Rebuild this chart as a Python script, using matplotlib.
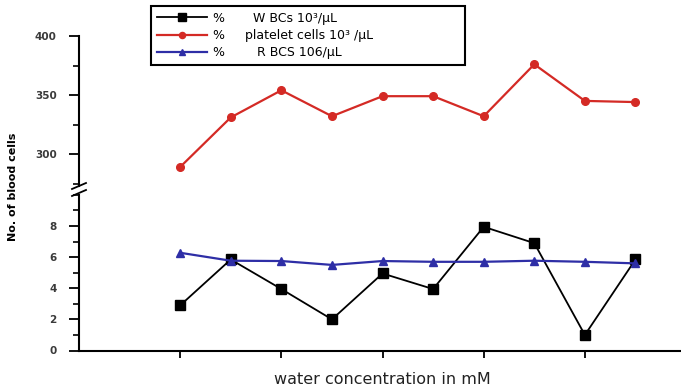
"""Blood cell counts against water concentration, broken y axis."""
import matplotlib
matplotlib.use("Agg")
import matplotlib.pyplot as plt
from matplotlib.ticker import MultipleLocator

# data (10 concentration steps)
steps = [1, 2, 3, 4, 5, 6, 7, 8, 9, 10]
wbc = [2.9, 5.85, 3.95, 2.0, 4.95, 3.95, 7.95, 6.9, 1.0, 5.85]
platelets = [289, 331, 354, 332, 349, 349, 332, 376, 345, 344]
rbc = [6.28, 5.77, 5.75, 5.5, 5.75, 5.7, 5.7, 5.77, 5.7, 5.6]

labels = [
    "%       W BCs 10\u00b3/\u00b5L",
    "%     platelet cells 10\u00b3 /\u00b5L",
    "%        R BCS 106/\u00b5L",
]
xticks = [1, 3, 5, 7, 9]

RED = "#d42a25"
BLUE = "#2e2ea6"
TICK_COLOR = "#3a3a3a"

W, H = 681, 390
fig = plt.figure(figsize=(W / 100, H / 100), dpi=100)

left = 79 / W
ax_lo = fig.add_axes([left, 1 - 350.5 / H, 1 - left, 155.6 / H])
ax_hi = fig.add_axes([left, 1 - 186 / H, 1 - left, 150 / H], sharex=ax_lo)

ax_lo.set_xlim(-1, 10.9)
ax_lo.set_ylim(0, 10)
ax_hi.set_ylim(400 - 150 / 1.18, 400)

(l_wbc,) = ax_lo.plot(steps, wbc, color="black", lw=1.3, marker="s", ms=7)
(l_rbc,) = ax_lo.plot(steps, rbc, color=BLUE, lw=1.6, marker="^", ms=6)
(l_plt,) = ax_hi.plot(steps, platelets, color=RED, lw=1.6, marker="o", ms=5.5)

for ax in (ax_lo, ax_hi):
    ax.spines["top"].set_visible(False)
    ax.spines["right"].set_visible(False)
    ax.spines["left"].set_linewidth(1.5)
    ax.patch.set_alpha(0)
    ax.tick_params(axis="y", which="major", length=7, width=1.3, pad=9,
                   labelsize=7.5, labelcolor=TICK_COLOR)
    ax.tick_params(axis="y", which="minor", length=4, width=1.2)

ax_lo.spines["bottom"].set_linewidth(1.5)
ax_lo.set_xticks(xticks)
ax_lo.set_xticklabels([])
ax_lo.tick_params(axis="x", length=5, width=1.3)
ax_lo.yaxis.set_minor_locator(MultipleLocator(1))
ax_lo.set_yticks([0, 2, 4, 6, 8])
for t in ax_lo.get_yticklabels():
    t.set_fontweight("bold")

ax_hi.spines["bottom"].set_visible(False)
ax_hi.tick_params(axis="x", bottom=False, labelbottom=False)
ax_hi.set_yticks([300, 350, 400])
ax_hi.yaxis.set_minor_locator(MultipleLocator(25))
for t in ax_hi.get_yticklabels():
    t.set_fontweight("bold")

# break marks on the y axis
for y0 in (186, 193):
    fig.add_artist(plt.Line2D([72 / W, 86 / W], [1 - (y0 + 3) / H, 1 - (y0 - 3) / H],
                              color="black", lw=1.3))

fig.text(13 / W, 1 - 187 / H, "No. of blood cells", rotation=90, ha="center",
         va="center", fontsize=8, fontweight="bold")
fig.text(382 / W, 1 - 380 / H, "water concentration in mM", ha="center",
         va="center", fontsize=11.5, color="#222222")

leg = fig.legend([l_wbc, l_plt, l_rbc], labels, loc="upper left",
                 bbox_to_anchor=(151 / W, 1 - 68 / H, 314 / W, 62 / H),
                 mode="expand", borderaxespad=0, markerscale=0.8,
                 fontsize=9, handlelength=4.0, handletextpad=0.5,
                 labelspacing=0.35, borderpad=0.45, fancybox=False,
                 edgecolor="black", framealpha=1)
leg.get_frame().set_linewidth(1.5)

fig.savefig("out.png", dpi=100)
